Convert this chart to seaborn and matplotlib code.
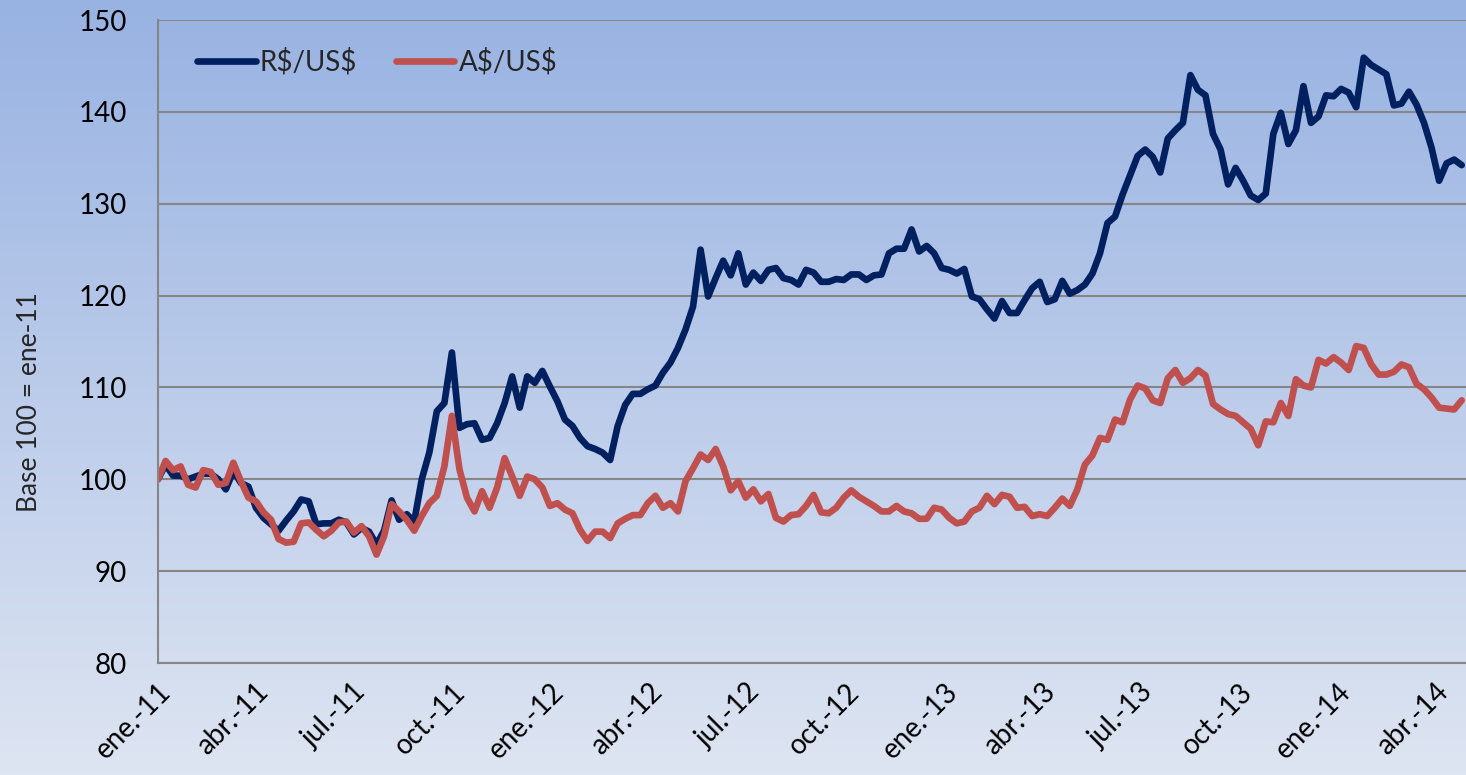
import numpy as np
import pandas as pd
import matplotlib
matplotlib.use("Agg")
import matplotlib.pyplot as plt
import seaborn as sns
from matplotlib.lines import Line2D

# ---- data (weekly index, base 100 = ene-11) ----
brl = [100.0, 101.6, 100.4, 100.4, 100.0, 100.3, 100.6, 100.6, 100.0, 98.9,
       100.9, 99.6, 99.2, 96.9, 95.8, 95.1, 94.4, 95.5, 96.5, 97.8,
       97.6, 95.1, 95.2, 95.2, 95.6, 95.3, 94.0, 94.7, 94.3, 92.9,
       94.4, 97.7, 95.6, 96.2, 95.4, 100.0, 102.9, 107.4, 108.3, 113.8,
       105.6, 106.0, 106.1, 104.3, 104.5, 106.1, 108.3, 111.2, 107.8, 111.2,
       110.5, 111.8, 110.1, 108.5, 106.5, 105.8, 104.5, 103.6, 103.3, 102.9,
       102.1, 105.8, 108.1, 109.3, 109.3, 109.8, 110.2, 111.6, 112.7, 114.3,
       116.3, 118.8, 125.0, 119.9, 121.9, 123.8, 122.2, 124.6, 121.2, 122.5,
       121.6, 122.8, 123.0, 121.9, 121.7, 121.2, 122.8, 122.5, 121.5, 121.5,
       121.8, 121.7, 122.3, 122.3, 121.7, 122.2, 122.3, 124.6, 125.1, 125.1,
       127.2, 124.8, 125.4, 124.6, 123.0, 122.8, 122.4, 122.9, 119.9, 119.6,
       118.5, 117.5, 119.4, 118.1, 118.1, 119.5, 120.8, 121.5, 119.3, 119.6,
       121.6, 120.2, 120.6, 121.2, 122.4, 124.6, 127.9, 128.6, 131.0, 133.1,
       135.2, 135.9, 135.1, 133.4, 137.1, 138.0, 138.8, 144.0, 142.4, 141.8,
       137.6, 135.9, 132.1, 133.9, 132.5, 130.9, 130.4, 131.1, 137.6, 139.9,
       136.5, 138.0, 142.8, 138.8, 139.5, 141.8, 141.7, 142.5, 142.1, 140.5,
       145.9, 145.1, 144.6, 144.1, 140.7, 140.9, 142.2, 140.8, 138.8, 136.1,
       132.5, 134.4, 134.8, 134.2]

aud = [100.0, 102.0, 101.0, 101.4, 99.4, 99.1, 101.0, 100.8, 99.4, 99.6,
       101.8, 99.8, 98.0, 97.6, 96.4, 95.6, 93.5, 93.1, 93.2, 95.2,
       95.3, 94.5, 93.8, 94.4, 95.3, 95.4, 94.2, 94.9, 93.8, 91.8,
       93.8, 97.3, 96.5, 95.6, 94.4, 96.0, 97.4, 98.2, 101.4, 106.9,
       101.1, 98.0, 96.5, 98.7, 96.9, 99.1, 102.3, 100.3, 98.2, 100.3,
       100.0, 99.1, 97.1, 97.4, 96.7, 96.3, 94.5, 93.3, 94.3, 94.3,
       93.6, 95.2, 95.7, 96.1, 96.1, 97.4, 98.2, 96.9, 97.4, 96.5,
       99.8, 101.2, 102.7, 102.1, 103.3, 101.4, 98.8, 99.8, 98.0, 98.9,
       97.6, 98.4, 95.8, 95.4, 96.1, 96.2, 97.1, 98.3, 96.4, 96.3,
       96.9, 98.0, 98.8, 98.1, 97.6, 97.1, 96.5, 96.5, 97.1, 96.5,
       96.3, 95.7, 95.7, 96.9, 96.7, 95.8, 95.2, 95.4, 96.5, 96.9,
       98.2, 97.3, 98.3, 98.1, 96.9, 97.0, 96.0, 96.2, 96.0, 96.9,
       97.9, 97.1, 98.9, 101.6, 102.6, 104.5, 104.3, 106.5, 106.2, 108.7,
       110.2, 109.9, 108.6, 108.3, 111.0, 111.9, 110.5, 111.0, 111.9, 111.3,
       108.2, 107.6, 107.1, 106.9, 106.2, 105.5, 103.7, 106.3, 106.2, 108.3,
       106.9, 110.9, 110.2, 110.0, 113.0, 112.6, 113.3, 112.7, 111.9, 114.5,
       114.3, 112.5, 111.4, 111.4, 111.7, 112.5, 112.2, 110.4, 109.8, 108.9,
       107.8, 107.7, 107.6, 108.6]

series_names = ["R$/US$", "A$/US$"]
tick_labels = ["ene.-11", "abr.-11", "jul.-11", "oct.-11", "ene.-12", "abr.-12",
               "jul.-12", "oct.-12", "ene.-13", "abr.-13", "jul.-13", "oct.-13",
               "ene.-14", "abr.-14"]
y_ticks = [80, 90, 100, 110, 120, 130, 140, 150]

dates = pd.date_range("2011-01-01", periods=len(brl), freq="7D")
df = pd.concat([
    pd.DataFrame({"fecha": dates, "valor": brl, "serie": series_names[0]}),
    pd.DataFrame({"fecha": dates, "valor": aud, "serie": series_names[1]}),
], ignore_index=True)

sns.set_style("white")
plt.rcParams["font.family"] = ["Lato", "DejaVu Sans"]

W, H = 1466, 775
fig = plt.figure(figsize=(W / 100, H / 100), dpi=100)

# gradient background
bg = fig.add_axes([0, 0, 1, 1], zorder=-10)
top = np.array([152, 178, 226]) / 255.0
bot = np.array([222, 229, 242]) / 255.0
t = np.linspace(0, 1, 256)[:, None]
grad = (top[None, :] * (1 - t) + bot[None, :] * t)[:, None, :]
bg.imshow(grad, aspect="auto", extent=[0, 1, 0, 1])
bg.set_axis_off()

ax = fig.add_axes([158 / W, (H - 663) / H, (W - 158) / W, 643 / H])
ax.set_facecolor("none")
ax.patch.set_alpha(0)

palette = {series_names[0]: "#002060", series_names[1]: "#C0504D"}
sns.lineplot(data=df, x="fecha", y="valor", hue="serie", palette=palette,
             linewidth=4.8, ax=ax, legend=False)
for ln in ax.lines:
    ln.set_solid_joinstyle("round")
    ln.set_solid_capstyle("round")

x0 = pd.Timestamp("2011-01-01")
ax.set_xlim(x0, x0 + pd.Timedelta(days=1215))
ax.set_ylim(80, 150)
ax.set_yticks(y_ticks)
ax.set_yticklabels([str(v) for v in y_ticks], fontsize=20)
qdates = pd.date_range("2011-01-01", periods=len(tick_labels), freq="QS")
ax.set_xticks(qdates)
ax.set_xticklabels(tick_labels, rotation=45, ha="right", va="top",
                   rotation_mode="anchor", fontsize=20)

ax.grid(axis="y", color="#868686", linewidth=1.5)
ax.grid(axis="x", visible=False)
for s in ["top", "right"]:
    ax.spines[s].set_visible(False)
for s in ["left", "bottom"]:
    ax.spines[s].set_color("#868686")
    ax.spines[s].set_linewidth(1.5)
ax.tick_params(axis="both", direction="out", length=7.2, width=1.5,
               color="#868686", labelcolor="black")
ax.tick_params(axis="y", pad=15)
ax.tick_params(axis="x", pad=4)

ax.set_xlabel("")
ax.set_ylabel("Base 100 = ene-11", fontsize=19)
ax.yaxis.set_label_coords(-0.089, 0.406)

handles = [Line2D([0], [0], color=palette[n], linewidth=4.8, solid_capstyle="round")
           for n in series_names]
labels = [n.replace("$", r"\$") for n in series_names]
ax.legend(handles, labels, loc="center left", bbox_to_anchor=(0.03, 0.935),
          ncol=2, frameon=False, fontsize=20, handlelength=2.1,
          handletextpad=0.15, columnspacing=1.4, borderaxespad=0, borderpad=0)

fig.savefig("out.png", dpi=100)
